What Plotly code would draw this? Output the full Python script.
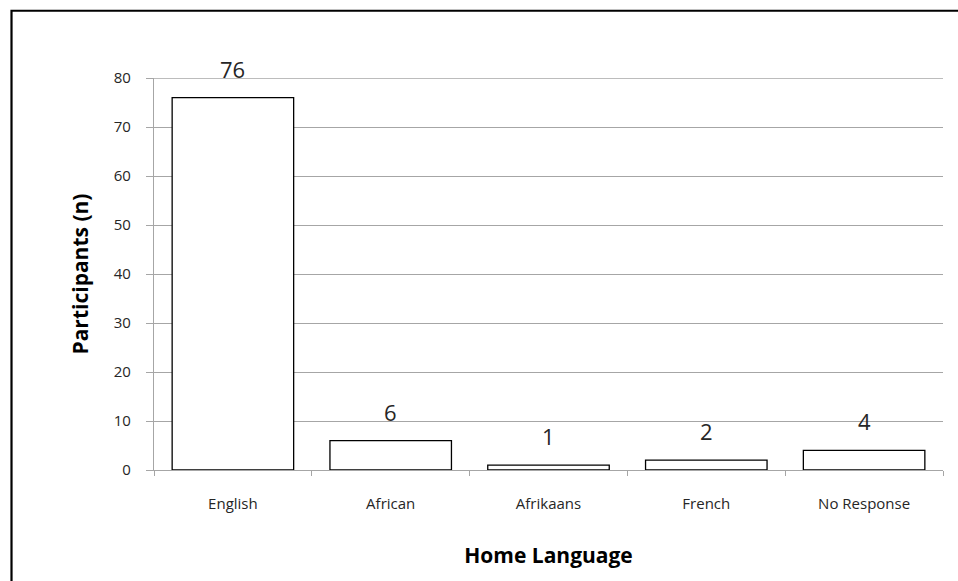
import plotly.graph_objects as go

# Home language of survey participants
languages = ["English", "African", "Afrikaans", "French", "No Response"]
participants = [76, 6, 1, 2, 4]
y_ticks = [0, 10, 20, 30, 40, 50, 60, 70, 80]

FONT = "Open Sans, Calibri, sans-serif"
GRID = "#a6a6a6"

fig = go.Figure()
fig.add_trace(go.Bar(
    x=languages,
    y=participants,
    marker=dict(color="white", line=dict(color="black", width=1.3)),
    width=0.77,
    hoverinfo="x+y",
))

# Value labels above each bar
for lang, val in zip(languages, participants):
    fig.add_annotation(
        x=lang, y=val, text=str(val), showarrow=False,
        yanchor="bottom", yshift=12,
        font=dict(family=FONT, size=22, color="#262626"),
    )

# Gridline at the top tick (sits on the plot edge)
fig.add_shape(
    type="line", xref="paper", yref="y",
    x0=0, x1=1, y0=y_ticks[-1], y1=y_ticks[-1],
    line=dict(color=GRID, width=1.3), layer="below",
)

# Chart frame
fig.add_shape(
    type="rect", xref="paper", yref="paper",
    x0=-0.1806, x1=1.2, y0=-0.4, y1=1.1715,
    line=dict(color="black", width=2.2), fillcolor="rgba(0,0,0,0)",
    layer="above",
)

fig.update_layout(
    width=958, height=581,
    margin=dict(l=154, r=15, t=78, b=111),
    paper_bgcolor="white", plot_bgcolor="white",
    showlegend=False,
    font=dict(family=FONT, color="#262626"),
    xaxis=dict(
        type="category",
        tickson="boundaries",
        ticks="outside", ticklen=5, tickcolor=GRID, tickwidth=1,
        showline=True, linecolor=GRID, linewidth=1.3,
        showgrid=False,
        ticklabelstandoff=20,
        tickfont=dict(family=FONT, size=15, color="#262626"),
        title=dict(text="<b>Home Language</b>", standoff=36,
                   font=dict(family=FONT, size=21, color="black")),
    ),
    yaxis=dict(
        range=[0, 80], tickvals=y_ticks,
        ticks="outside", ticklen=7, tickcolor=GRID, tickwidth=1,
        showline=True, linecolor=GRID, linewidth=1.3,
        showgrid=True, gridcolor=GRID, gridwidth=1.3,
        zeroline=False,
        ticklabelstandoff=12,
        tickfont=dict(family=FONT, size=15, color="#262626"),
        title=dict(text="<b>Participants (n)</b>", standoff=19,
                   font=dict(family=FONT, size=21, color="black")),
    ),
)

fig.write_html("out.html")
